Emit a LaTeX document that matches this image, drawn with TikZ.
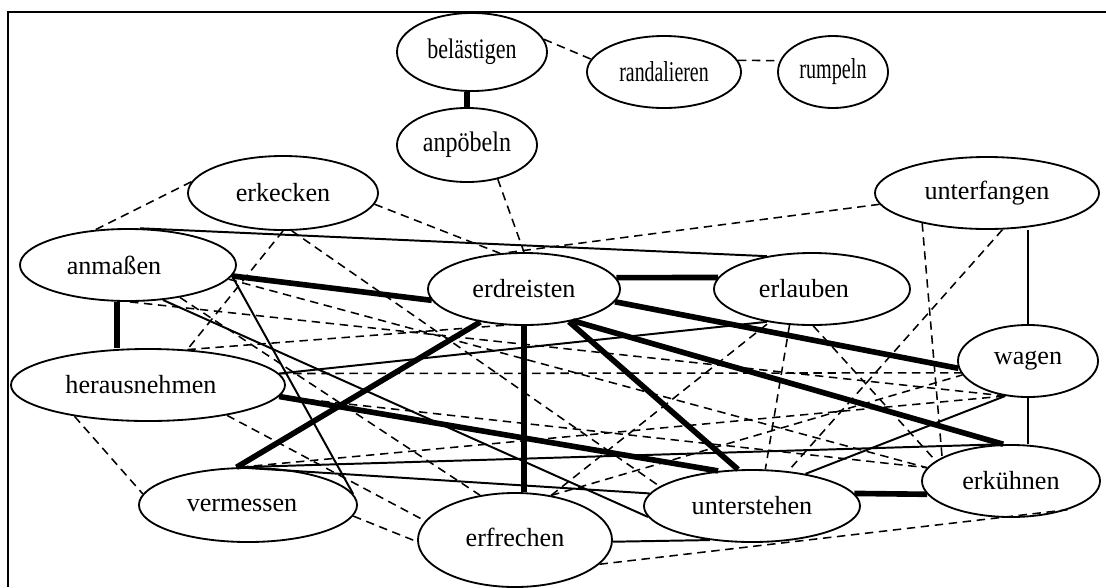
\documentclass[tikz,border=0pt]{standalone}
\usepackage{fontspec}
\setmainfont{Liberation Serif}
\usepackage{graphicx}
\usetikzlibrary{shapes.geometric}

\begin{document}
\begin{tikzpicture}[
  x = 0.025cm, y = -0.025cm,
  word/.style = {draw,ellipse,inner sep=0pt,line width=1.3pt,minimum height=1.8cm,font=\fontsize{18.6}{22}\selectfont},
  heavy/.style = {line width=4pt},
  firm/.style = {line width=1.4pt},
  loose/.style = {line width=1.1pt,dash pattern=on 6pt off 4pt}
  ]
  \useasboundingbox (0,0) rectangle (1106,587);
  \draw[line width=1.6pt] (8,587) -- (8,12) -- (1106,12);
  \node[word,minimum width=3.75cm,minimum height=1.95cm] (bel) at (472,52) {\scalebox{0.84}[1.08]{belästigen}};
  \node[word,minimum width=3.85cm] (ran) at (664,72) {\scalebox{0.76}[1.1]{randalieren}};
  \node[word,minimum width=2.75cm] (rum) at (833,72) {\scalebox{0.77}[1.1]{rumpeln}};
  \node[word,minimum width=3.5cm,minimum height=1.85cm] (anp) at (467,145) {\scalebox{0.92}[1.08]{anpöbeln}};
  \node[word,minimum width=4.75cm,minimum height=1.85cm] (erk) at (283,193) {erkecken};
  \node[word,minimum width=5.6cm] (unf) at (987,193) {unterfangen};
  \node[word,minimum width=5.4cm] (anm) at (128,265) {anmaßen\kern0.7cm};
  \node[word,minimum width=4.8cm] (erd) at (524,289) {erdreisten};
  \node[word,minimum width=4.9cm] (erl) at (812,289) {erlauben\kern0.4cm};
  \node[word,minimum width=3.5cm] (wag) at (1028,361) {wagen};
  \node[word,minimum width=6.85cm] (her) at (148,385) {herausnehmen\kern0.35cm};
  \node[word,minimum width=5.45cm,minimum height=1.85cm] (ver) at (248,505) {vermessen\kern0.3cm};
  \node[word,minimum width=4.85cm,minimum height=2.35cm] (erf) at (515,540) {\raisebox{0.15cm}{erfrechen}};
  \node[word,minimum width=5.4cm] (ust) at (752,506) {unterstehen};
  \node[word,minimum width=4.45cm] (ekn) at (1011,481) {erkühnen};
  \draw[heavy] (anp.north) -- (anp.north |- bel.south);
  \draw[loose] (bel.10) -- (ran.170);
  \draw[loose] (ran.9) -- (rum.168);
  \draw[loose] (anp.-48) -- (erd.90);
  \draw[loose] (erk.173) -- (anm.133);
  \draw[loose] (erk.-7) -- (erd.124);
  \draw[loose] (erk.-90) -- (her.42);
  \draw[loose] (erk.-77) -- (ust.168);
  \draw[firm] (anm.72) -- (erl.144);
  \draw[heavy] (anm.-6) -- (erd.187);
  \draw[firm] (anm.-6) -- (ver.6);
  \draw[loose] (anm.-8) -- (ekn.171);
  \draw[loose] (anm.-87) -- (wag.-123);
  \draw[heavy] (anm.-107) -- (anm.-107 |- her.north);
  \draw[firm] (anm.-45) -- (ust.186);
  \draw[loose] (anm.-32) -- (erf.128);
  \draw[heavy] (erd.7) -- (erl.173);
  \draw[heavy] (erd.-8) -- (wag.186);
  \draw[heavy] (erd.-36) -- (ust.111);
  \draw[heavy] (erd.-33) -- (ekn.102);
  \draw[heavy] (erd.south) -- (erd.south |- erf.north);
  \draw[heavy] (erd.-143) -- (ver.107);
  \draw[heavy] (her.-5) -- (ust.134);
  \draw[firm] (her.5) -- (erl.-144);
  \draw[loose] (her.5) -- (wag.190);
  \draw[loose] (her.42) -- (erd.-118);
  \draw[loose] (her.-5) -- (ekn.171);
  \draw[loose] (her.-21) -- (erf.168);
  \draw[loose] (her.-157) -- (ver.174);
  \draw[firm] (ver.107) -- (ekn.102);
  \draw[firm] (ver.107) -- (ust.173);
  \draw[loose] (ver.102) -- (wag.-123);
  \draw[loose] (ver.-6) -- (erf.181);
  \draw[firm] (erf.-1) -- (ust.-141);
  \draw[loose] (erf.-16) -- (ekn.-27);
  \draw[loose] (erf.51) -- (erl.-142);
  \draw[loose] (erf.51) -- (wag.192);
  \draw[loose] (erl.-122) -- (ust.70);
  \draw[loose] (erl.-88) -- (ekn.165);
  \draw[loose] (unf.186) -- (erd.115);
  \draw[loose] (unf.-155) -- (ekn.161);
  \draw[loose] (unf.-67) -- (ust.44);
  \draw[firm] (wag.north) -- (wag.north |- unf.south);
  \draw[firm] (wag.south) -- (wag.south |- ekn.north);
  \draw[firm] (ust.31) -- (wag.-123);
  \draw[heavy] (ust.7) -- (ekn.189);
\end{tikzpicture}
\end{document}
